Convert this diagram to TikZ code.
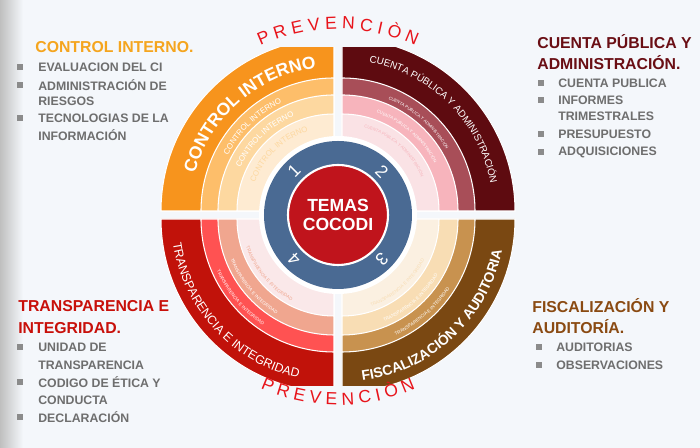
\documentclass[tikz,border=0pt]{standalone}
\usepackage{fontspec}
\setmainfont{Liberation Sans}
\usetikzlibrary{decorations.text}
\definecolor{bgc}{HTML}{F4F7FB}
\definecolor{ciA}{HTML}{F7941D}\definecolor{ciB}{HTML}{FDBE6A}\definecolor{ciC}{HTML}{FDD8A0}\definecolor{ciD}{HTML}{FEEBD2}
\definecolor{cpA}{HTML}{5E0B10}\definecolor{cpB}{HTML}{A84E58}\definecolor{cpC}{HTML}{F7B4BC}\definecolor{cpD}{HTML}{FAE2E5}
\definecolor{faA}{HTML}{7A4812}\definecolor{faB}{HTML}{C8924F}\definecolor{faC}{HTML}{F8DDB4}\definecolor{faD}{HTML}{FBF0E1}
\definecolor{tiA}{HTML}{C1120A}\definecolor{tiB}{HTML}{FF5252}\definecolor{tiC}{HTML}{F0A68F}\definecolor{tiD}{HTML}{FAE8E9}
\definecolor{hubblue}{HTML}{4A6A93}\definecolor{hubred}{HTML}{C0141C}
\definecolor{prevred}{HTML}{E8141B}\definecolor{listgray}{HTML}{6E6E6E}
\definecolor{hdCI}{HTML}{F5A51E}\definecolor{hdCP}{HTML}{6A0E14}\definecolor{hdFA}{HTML}{8A4A12}\definecolor{hdTI}{HTML}{C8100A}
\tikzset{
  band/.style={draw=white, line width=0.6pt},
  arctext/.style={decorate, decoration={text along path, text align=center, text={#1}}},
  heading/.style={anchor=west, inner sep=0pt, font=\bfseries\fontsize{9}{11}\selectfont},
  itemtext/.style={anchor=west, inner sep=0pt, text=listgray, font=\bfseries\fontsize{7}{8}\selectfont},
  bulletsq/.style={fill=listgray!80, minimum size=3.5pt, inner sep=0pt},
}
% quadrant: start angle, colour prefix
\newcommand{\ringquad}[2]{%
  \fill[#2A, band] (0,0) -- (#1:173) arc (#1:#1+90:173) -- cycle;
  \fill[#2B, band] (0,0) -- (#1:133) arc (#1:#1+90:133) -- cycle;
  \fill[#2C, band] (0,0) -- (#1:116) arc (#1:#1+90:116) -- cycle;
  \fill[#2D, band] (0,0) -- (#1:97) arc (#1:#1+90:97) -- cycle;}
\begin{document}
\begin{tikzpicture}[x=0.02cm, y=0.02cm]
\useasboundingbox (-338,-233) rectangle (362,215);
\fill[bgc] (-338,-233) rectangle (362,215);
\shade[left color=black!25, right color=bgc] (-338,-233) rectangle (-315,215);
% rings
\begin{scope}
  \clip (-200,-171) rectangle (200,167);
  \begin{scope}[shift={(-4,4)}]\ringquad{90}{ci}\end{scope}
  \begin{scope}[shift={(4,4)}]\ringquad{0}{cp}\end{scope}
  \begin{scope}[shift={(4,-4)}]\ringquad{-90}{fa}\end{scope}
  \begin{scope}[shift={(-4,-4)}]\ringquad{180}{ti}\end{scope}
\end{scope}
% hub
\fill[white] (0,0) circle (79);
\node (hub) [circle, fill=hubblue, minimum size=148*0.02cm] at (0,0) {};
\node (core) [circle, fill=hubred, draw=white, line width=1.2pt, minimum size=100*0.02cm,
  text=white, font=\bfseries\fontsize{10}{11}\selectfont, align=center] at (0,0) {TEMAS\\COCODI};
\foreach \n/\a in {1/135, 2/45, 3/-45, 4/-135}
  \node (num\n) [text=white, font=\fontsize{10}{10}\selectfont, rotate=\a-90] at (\a:62) {\n};
% outer ring labels
\path[arctext={|\color{white}\bfseries\fontsize{10}{10}\selectfont|CONTROL INTERNO}] (-4,4) ++(172:144) arc (172:90:144);
\path[arctext={|\color{white}\fontsize{5.6}{5.6}\selectfont|CUENTA PÚBLICA Y ADMINISTRACIÓN}] (4,4) ++(92:151) arc (92:-2:151);
\path[arctext={|\color{white}\bfseries\fontsize{8}{8}\selectfont|FISCALIZACIÓN Y AUDITORIA}] (4,-4) ++(-92:163) arc (-92:-2:163);
\path[arctext={|\color{white}\fontsize{7}{7}\selectfont|TRANSPARENCIA E INTEGRIDAD}] (-4,-4) ++(178:163) arc (178:268:163);
% inner ring labels
\foreach \r/\c in {120/white, 103/white, 84/ciC} {
  \path[arctext={|\color{\c}\fontsize{4.5}{4.5}\selectfont|CONTROL INTERNO}] (-4,4) ++(168:\r) arc (168:100:\r);}
\foreach \r/\c in {121/white, 104/white, 86/cpC} {
  \path[arctext={|\color{\c}\fontsize{2.4}{2.4}\selectfont|CUENTA PÚBLICA Y ADMINISTRACIÓN}] (4,4) ++(88:\r) arc (88:10:\r);}
\foreach \r/\c in {128/white, 111/white, 92/faC} {
  \path[arctext={|\color{\c}\fontsize{2.6}{2.6}\selectfont|TRANSPARENCIA E INTEGRIDAD}] (4,-4) ++(-88:\r) arc (-88:-10:\r);}
\foreach \r/\c in {128/white, 111/white, 92/tiC} {
  \path[arctext={|\color{\c}\fontsize{2.6}{2.6}\selectfont|TRANSPARENCIA E INTEGRIDAD}] (-4,-4) ++(178:\r) arc (178:262:\r);}
% prevencion
\path[arctext={|\color{prevred}\fontsize{10}{10}\selectfont|P\ R\ E\ V\ E\ N\ C\ I\ Ò\ N}] (118:186) arc (118:62:186);
\path[arctext={|\color{prevred}\fontsize{10}{10}\selectfont|P\ R\ E\ V\ E\ N\ C\ I\ Ò\ N}] (-116:190) arc (-116:-64:190);
% control interno list
\node (hCI) [heading, text=hdCI] at (-303,168) {CONTROL INTERNO.};
\foreach \t/\y in {EVALUACION DEL CI/148, ADMINISTRACIÓN DE/130, TECNOLOGIAS DE LA/97} {
  \node (b\y) [bulletsq] at (-318,\y) {};
  \node (i\y) [itemtext] at (-300,\y) {\t};}
\node (iRiesgos) [itemtext] at (-300,114) {RIESGOS};
\node (iInfo) [itemtext] at (-300,80) {INFORMACIÓN};
% cuenta publica list
\node (hCP1) [heading, text=hdCP] at (199,173) {CUENTA PÚBLICA Y};
\node (hCP2) [heading, text=hdCP] at (199,152) {ADMINISTRACIÓN.};
\foreach \t/\y in {CUENTA PUBLICA/132, INFORMES/115, PRESUPUESTO/81, ADQUISICIONES/63} {
  \node (b\y) [bulletsq] at (203,\y) {};
  \node (i\y) [itemtext] at (220,\y) {\t};}
\node (iTrim) [itemtext] at (220,99) {TRIMESTRALES};
% fiscalizacion list
\node (hFA1) [heading, text=hdFA] at (194,-91) {FISCALIZACIÓN Y};
\node (hFA2) [heading, text=hdFA] at (194,-112) {AUDITORÍA.};
\foreach \t/\y in {AUDITORIAS/-132, OBSERVACIONES/-150} {
  \node (b\y) [bulletsq] at (201,\y) {};
  \node (i\y) [itemtext] at (218,\y) {\t};}
% transparencia list
\node (hTI1) [heading, text=hdTI] at (-320,-91) {TRANSPARENCIA E};
\node (hTI2) [heading, text=hdTI] at (-320,-113) {INTEGRIDAD.};
\foreach \t/\y in {UNIDAD DE/-132, CODIGO DE ÉTICA Y/-167, DECLARACIÓN/-202} {
  \node (b\y) [bulletsq] at (-318,\y) {};
  \node (i\y) [itemtext] at (-300,\y) {\t};}
\node (iTransp) [itemtext] at (-300,-150) {TRANSPARENCIA};
\node (iConducta) [itemtext] at (-300,-185) {CONDUCTA};
\end{tikzpicture}
\end{document}
